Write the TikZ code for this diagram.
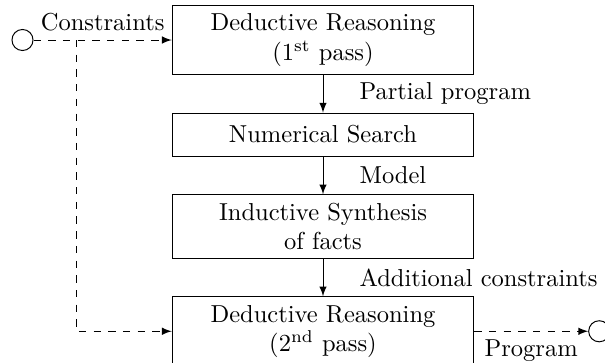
\documentclass[tikz,border=0pt]{standalone}
\usetikzlibrary{positioning}
\tikzset{
	stage/.style={draw, align=center, minimum width=123pt},
	io/.style={circle, draw, minimum size=8.6pt, inner sep=0pt},
	flow/.style={->, >=latex},
	feed/.style={->, >=latex, dashed},
	lbl/.style={right, xshift=0.4cm}
}
\begin{document}
\begin{tikzpicture}[x=0.408pt, y=-0.408pt, node distance=15.4pt]
				\useasboundingbox (0,0) rectangle (605,362);
				\node[stage] (ded1) at (323,40) {Deductive Reasoning\\(1\textsuperscript{st} pass)};
				\node[stage, minimum height=17.5pt, below=of ded1] (num) {Numerical Search};
				\node[stage, below=of num] (ind) {Inductive Synthesis\\of facts};
				\node[stage, below=of ind] (ded2) {Deductive Reasoning\\(2\textsuperscript{nd} pass)};
				\node[io] (cin) at (22.5,40) {};
				\node[io, right=46.5pt of ded2] (cout) {};
				\coordinate (split) at (76,40);
				% main chain
				\draw[flow] (ded1) -- node[lbl]{Partial program} (num);
				\draw[flow] (num) -- node[lbl]{Model} (ind);
				\draw[flow] (ind) -- node[lbl]{Additional constraints} (ded2);
				% input and output
				\draw[feed] (cin) -- node[above]{Constraints} (ded1);
				\draw[feed] (split) |- (ded2);
				\draw[feed] (ded2) -- node[below]{Program} (cout);
			\end{tikzpicture}
\end{document}
